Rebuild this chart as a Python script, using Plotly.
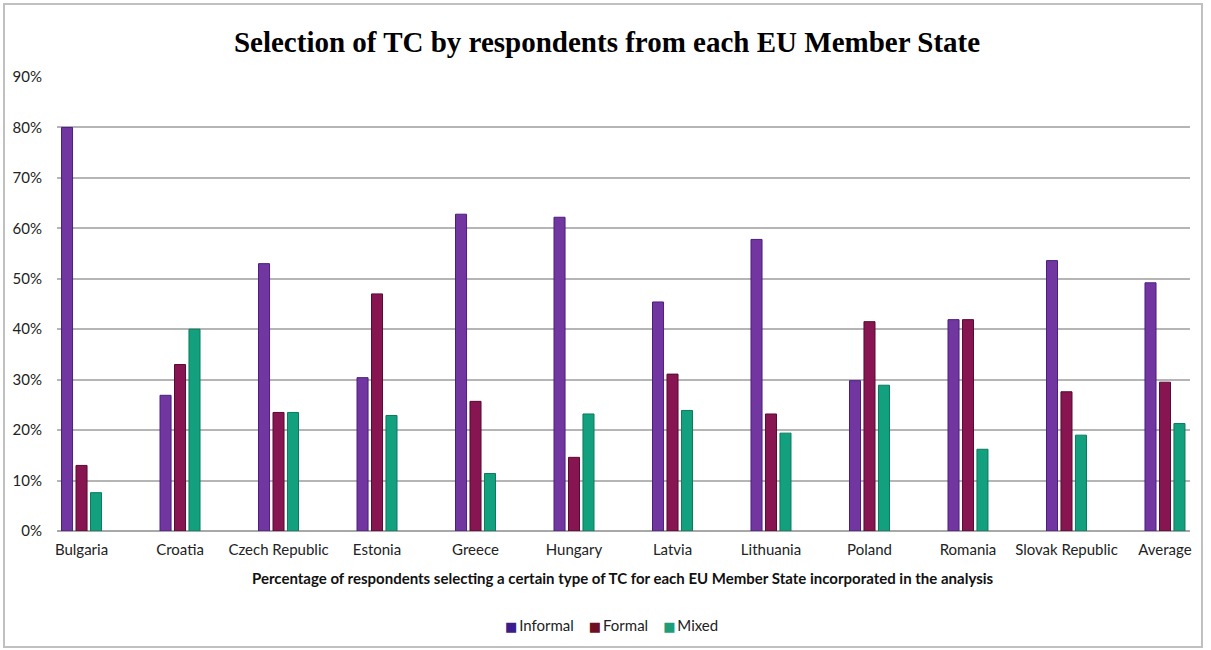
import plotly.graph_objects as go

# Member states (plus the overall average) and share of respondents per TC type, in %
countries = ["Bulgaria", "Croatia", "Czech Republic", "Estonia", "Greece", "Hungary",
             "Latvia", "Lithuania", "Poland", "Romania", "Slovak Republic", "Average"]
informal = [80.0, 26.9, 53.0, 30.4, 62.8, 62.2, 45.4, 57.8, 29.8, 41.9, 53.6, 49.2]
formal = [13.0, 33.0, 23.5, 47.0, 25.7, 14.6, 31.1, 23.2, 41.5, 41.9, 27.6, 29.5]
mixed = [7.6, 40.0, 23.5, 22.9, 11.4, 23.2, 23.9, 19.4, 28.9, 16.2, 19.0, 21.3]

y_ticks = [0, 10, 20, 30, 40, 50, 60, 70, 80, 90]
y_tick_labels = [f"{v}%" for v in y_ticks]

W, H = 1211, 650
ML, MR, MT, MB = 57, 21, 77, 119
PW, PH = W - ML - MR, H - MT - MB


def px_to_paper_x(px):
    return (px - ML) / PW


def px_to_paper_y(py):
    return (H - MB - py) / PH


# name, values, bar fill, bar edge, legend swatch
series = [
    ("Informal", informal, "#7236A0", "#4A1E80", "#3B1C8C"),
    ("Formal", formal, "#861551", "#580A30", "#6E0F22"),
    ("Mixed", mixed, "#12A07E", "#0A7A5B", "#1E9E78"),
]

BAR_W = 0.112   # bar width in category units
STEP = 0.147    # distance between neighbouring bars in a cluster

fig = go.Figure()
for i, (name, vals, fill, edge, _) in enumerate(series):
    fig.add_trace(go.Bar(
        x=countries, y=vals, name=name, showlegend=False,
        width=BAR_W, offset=(i - 1) * STEP - BAR_W / 2,
        marker=dict(color=fill, line=dict(color=edge, width=1)),
    ))

# legend row: small coloured square followed by the series name
legend_text = "\u2002\u2002".join(
    f'<span style="color:{swatch}; font-family:DejaVu Sans; font-size:13px">\u25A0</span>\u2009{name}'
    for name, _, _, _, swatch in series
)

FONT = "Lato"

fig.update_layout(
    width=W, height=H,
    margin=dict(l=ML, r=MR, t=MT, b=MB),
    paper_bgcolor="white", plot_bgcolor="white",
    barmode="overlay",
    showlegend=False,
    title=dict(
        text="<b>Selection of TC by respondents from each EU Member State</b>",
        x=607 / W, xanchor="center", y=1 - 42 / H, yanchor="middle",
        font=dict(family="Liberation Serif", size=29, color="#000000"),
    ),
    font=dict(family=FONT, size=15, color="#222222"),
    xaxis=dict(
        type="category", range=[-0.249, 11.254],
        showgrid=False, showline=False, zeroline=False,
        ticks="", ticklabelstandoff=8,
        tickfont=dict(family=FONT, size=15, color="#222222"),
    ),
    yaxis=dict(
        range=[0, 90], tickvals=y_ticks, ticktext=y_tick_labels,
        showgrid=True, gridcolor="#B5B5B5", gridwidth=2,
        zeroline=True, zerolinecolor="#A8A8A8", zerolinewidth=2,
        showline=False, ticks="", ticklabelstandoff=14,
        tickfont=dict(family=FONT, size=15, color="#222222"),
    ),
    annotations=[
        dict(
            text="<b>Percentage of respondents selecting a certain type of TC for each EU Member State incorporated in the analysis</b>",
            xref="paper", yref="paper", x=px_to_paper_x(623), y=px_to_paper_y(578),
            xanchor="center", yanchor="middle", showarrow=False,
            font=dict(family=FONT, size=15, color="#111111"),
        ),
        dict(
            text=legend_text,
            xref="paper", yref="paper", x=px_to_paper_x(611), y=px_to_paper_y(625),
            xanchor="center", yanchor="middle", showarrow=False,
            font=dict(family=FONT, size=15, color="#222222"),
        ),
    ],
    shapes=[dict(
        type="rect", xref="paper", yref="paper", layer="below",
        x0=px_to_paper_x(4), x1=px_to_paper_x(1202),
        y0=px_to_paper_y(647), y1=px_to_paper_y(4),
        line=dict(color="#C0C0C0", width=2), fillcolor="rgba(0,0,0,0)",
    )],
)

fig.write_html("out.html")
